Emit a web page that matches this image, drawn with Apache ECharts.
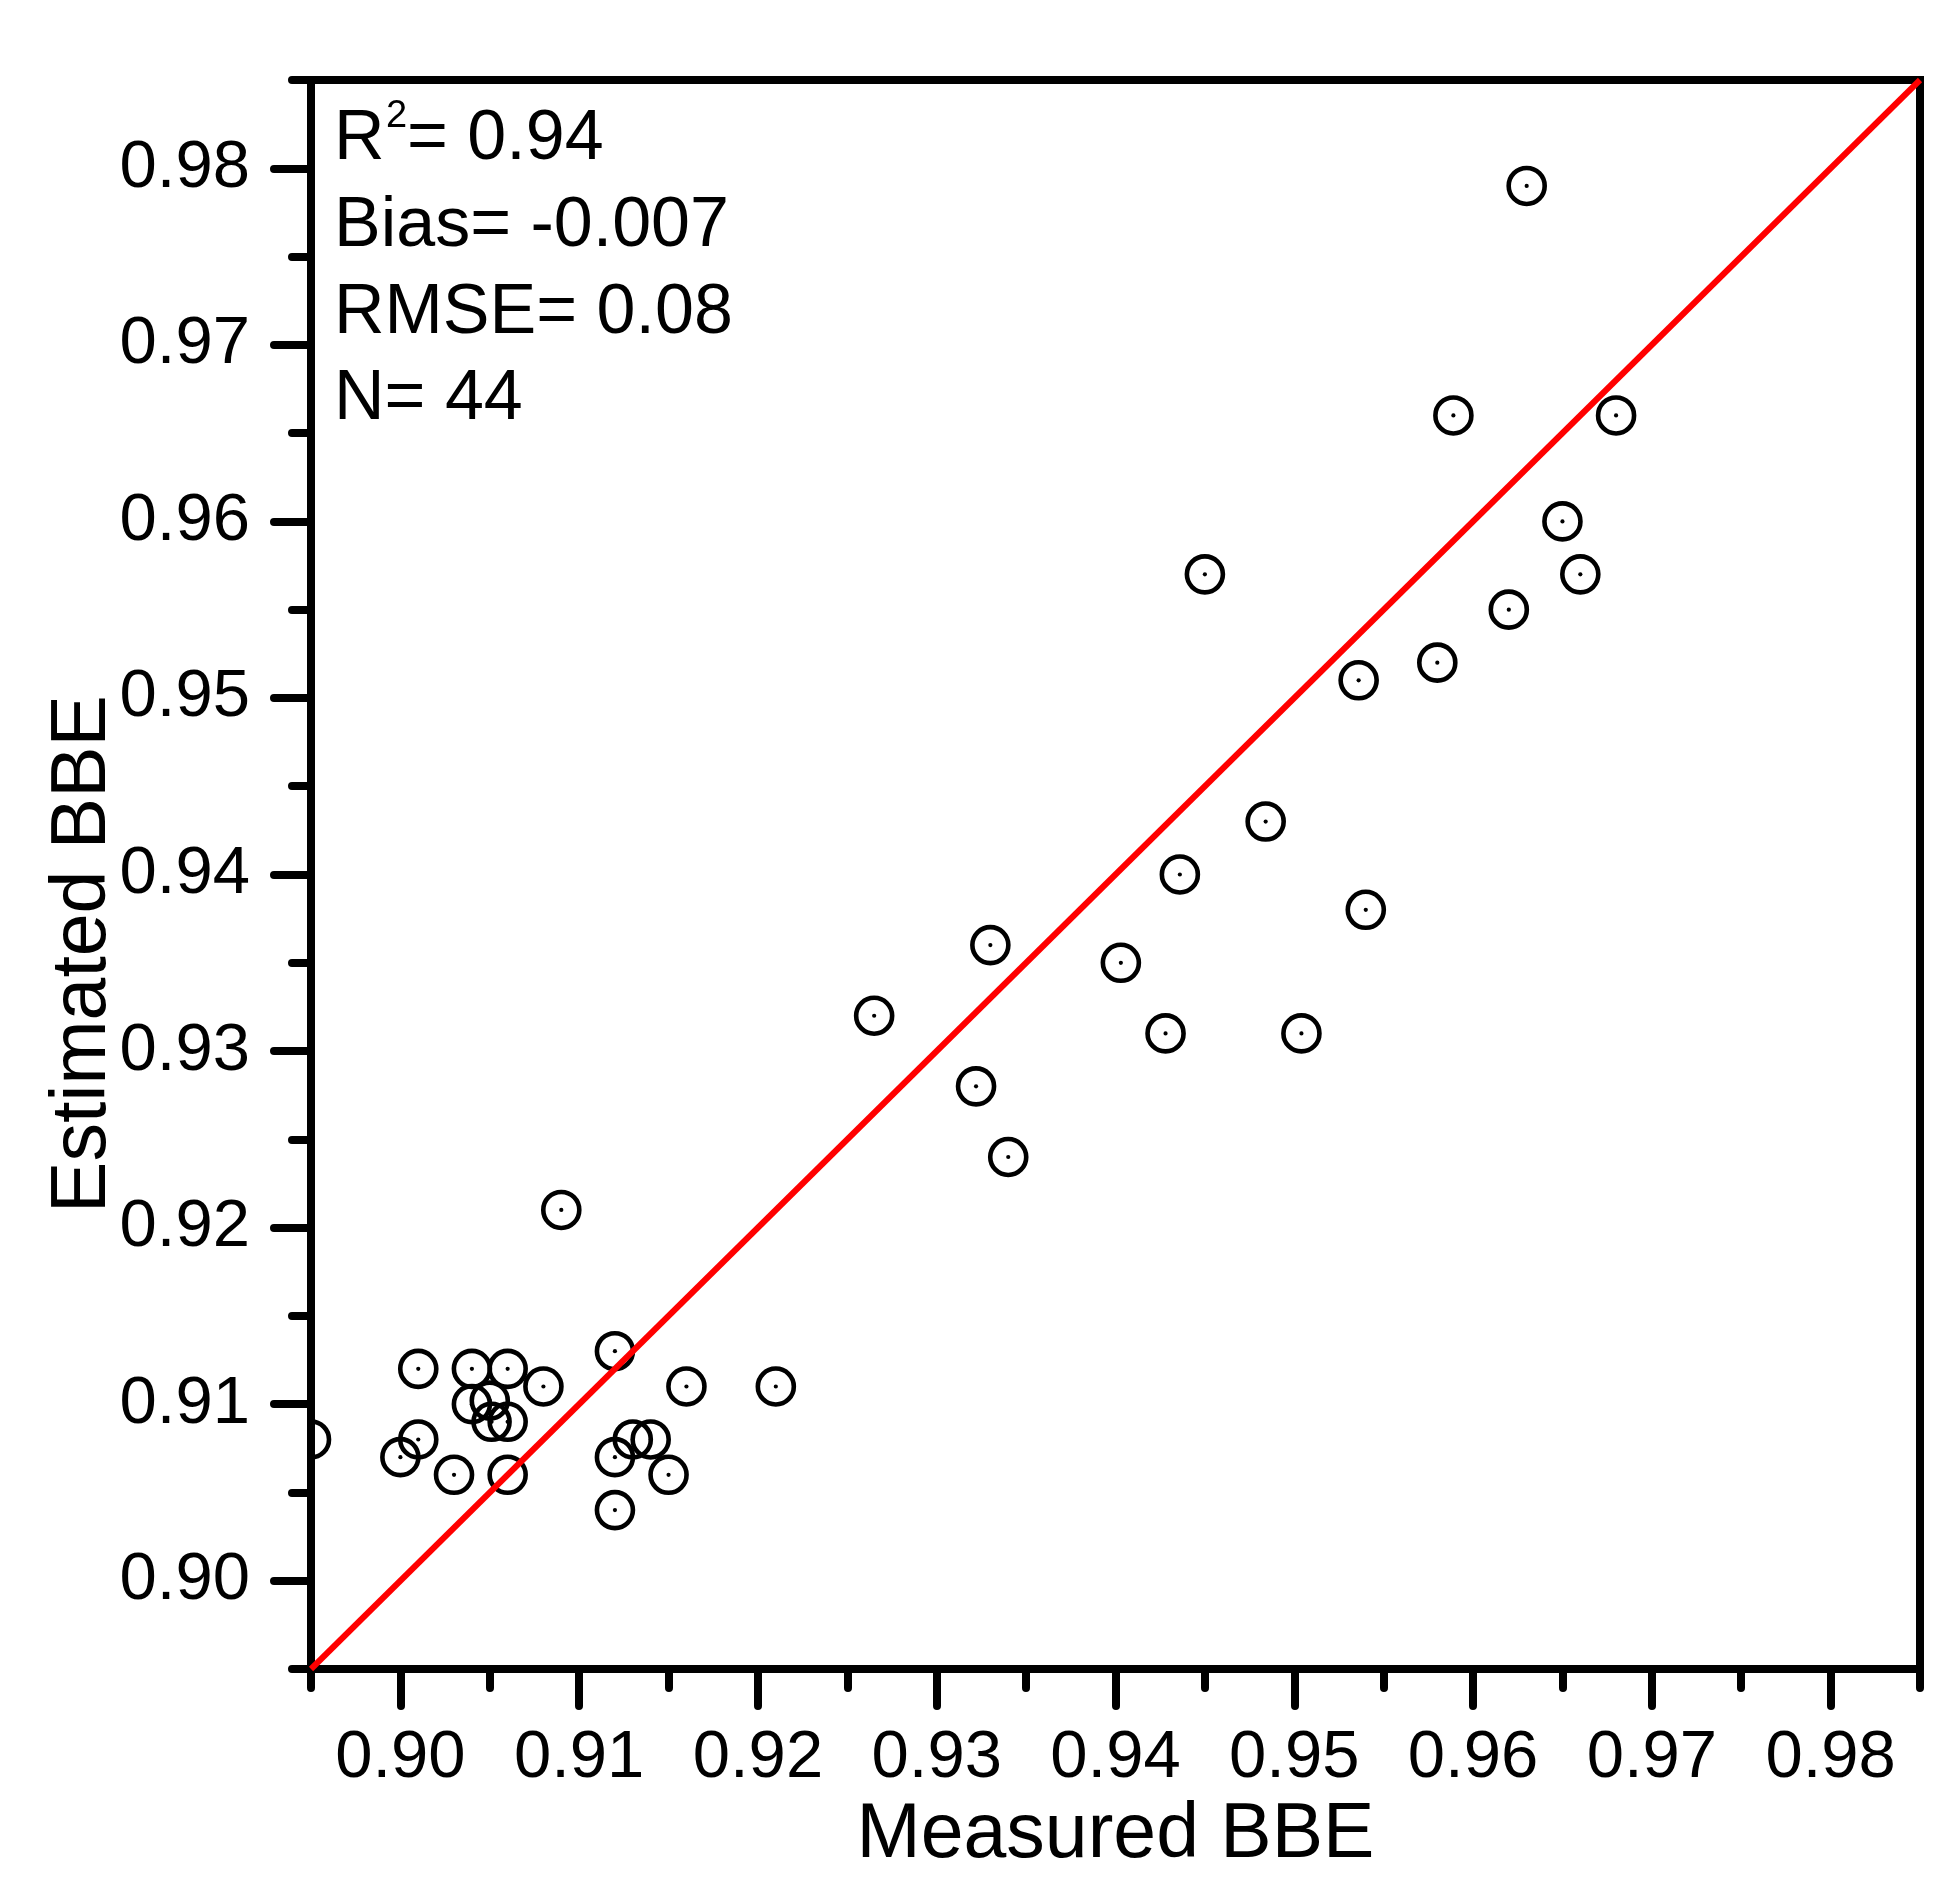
<!DOCTYPE html>
<html>
<head>
<meta charset="utf-8">
<script src="https://cdn.jsdelivr.net/npm/echarts@6/dist/echarts.min.js"></script>
<style>
html,body{margin:0;padding:0;background:#ffffff;}
#chart{width:1955px;height:1888px;}
</style>
</head>
<body>
<div id="chart"></div>
<script>
// ---- data ----
const measuredBBE = [
  0.895, 0.900, 0.901, 0.901, 0.903, 0.904, 0.904, 0.905, 0.9051, 0.906,
  0.906, 0.906, 0.908, 0.909, 0.912, 0.912, 0.912, 0.913, 0.914, 0.915,
  0.916, 0.921, 0.9265, 0.9322, 0.933, 0.934, 0.9403, 0.9428, 0.9436, 0.945,
  0.9484, 0.9504, 0.9536, 0.954, 0.958, 0.9589, 0.962, 0.963, 0.965, 0.966,
  0.968
];
const estimatedBBE = [
  0.908, 0.907, 0.912, 0.908, 0.906, 0.912, 0.910, 0.9102, 0.909, 0.909,
  0.912, 0.906, 0.911, 0.921, 0.913, 0.907, 0.904, 0.908, 0.908, 0.906,
  0.911, 0.911, 0.932, 0.928, 0.936, 0.924, 0.935, 0.931, 0.940, 0.957,
  0.943, 0.931, 0.951, 0.938, 0.952, 0.966, 0.955, 0.979, 0.960, 0.957,
  0.966
];
const axisRange = [0.895, 0.985];
const oneToOneLine = [0.895, 0.985];
const xMajorTicks = [0.90, 0.91, 0.92, 0.93, 0.94, 0.95, 0.96, 0.97, 0.98];
const xMinorTicks = [0.895, 0.905, 0.915, 0.925, 0.935, 0.945, 0.955, 0.965, 0.975, 0.985];
const yMajorTicks = [0.90, 0.91, 0.92, 0.93, 0.94, 0.95, 0.96, 0.97, 0.98];
const yMinorTicks = [0.895, 0.905, 0.915, 0.925, 0.935, 0.945, 0.955, 0.965, 0.975, 0.985];
const statR2 = ['R', '2', '= 0.94'];
const statsLines = ['Bias= -0.007', 'RMSE= 0.08', 'N= 44'];
const xTitle = 'Measured BBE';
const yTitle = 'Estimated BBE';

// ---- chart ----
const FONT = "'Liberation Sans', Arial, sans-serif";
const chart = echarts.init(document.getElementById('chart'), null, {renderer: 'canvas'});

function majorAxis(pos, ticks, margin, extra) {
  return Object.assign({
    type: 'value', position: pos, min: axisRange[0], max: axisRange[1],
    axisLine: {show: true, onZero: false, lineStyle: {color: '#000', width: 8}},
    axisTick: {show: true, inside: false, customValues: ticks, length: 37,
      lineStyle: {color: '#000', width: 8, cap: 'round'}},
    axisLabel: {show: true, customValues: ticks, margin: margin,
      formatter: v => v.toFixed(2), color: '#000', fontSize: 67, fontFamily: FONT},
    splitLine: {show: false}
  }, extra || {});
}
function minorAxis(pos, ticks) {
  return {
    type: 'value', position: pos, min: axisRange[0], max: axisRange[1],
    axisLine: {show: false, onZero: false},
    axisTick: {show: true, inside: false, customValues: ticks, length: 19,
      lineStyle: {color: '#000', width: 8, cap: 'round'}},
    axisLabel: {show: false},
    splitLine: {show: false}
  };
}

const pts = measuredBBE.map((x, i) => [x, estimatedBBE[i]]);
const statY0 = 140, statDY = 86.7, statX = 334;

const graphics = [
  {type: 'text', x: 84, y: 954, rotation: Math.PI / 2,
    style: {text: yTitle, fill: '#000', font: '77px ' + FONT, align: 'center', verticalAlign: 'middle'}},
  {type: 'text', x: statX, y: statY0,
    style: {text: statR2[0], fill: '#000', font: '70px ' + FONT, align: 'left', verticalAlign: 'middle'}},
  {type: 'text', x: statX + 52, y: statY0 - 23,
    style: {text: statR2[1], fill: '#000', font: '38px ' + FONT, align: 'left', verticalAlign: 'middle'}},
  {type: 'text', x: statX + 73, y: statY0,
    style: {text: statR2[2], fill: '#000', font: '70px ' + FONT, align: 'left', verticalAlign: 'middle'}}
].concat(statsLines.map((t, i) => ({
  type: 'text', x: statX, y: statY0 + (i + 1) * statDY,
  style: {text: t, fill: '#000', font: '70px ' + FONT, align: 'left', verticalAlign: 'middle'}
})));

const option = {
  animation: false,
  backgroundColor: '#ffffff',
  grid: {left: 311, right: 35, top: 80, bottom: 219, show: true,
    borderColor: '#000', borderWidth: 8, backgroundColor: 'transparent', containLabel: false},
  xAxis: [
    majorAxis('bottom', xMajorTicks, 56, {
      name: xTitle, nameLocation: 'middle', nameGap: 124,
      nameTextStyle: {color: '#000', fontSize: 77, fontFamily: FONT}
    }),
    minorAxis('bottom', xMinorTicks)
  ],
  yAxis: [
    majorAxis('left', yMajorTicks, 61),
    minorAxis('left', yMinorTicks)
  ],
  graphic: graphics,
  series: [
    {
      type: 'custom', xAxisIndex: 0, yAxisIndex: 0, clip: true,
      data: pts,
      renderItem: function (params, api) {
        const p = api.coord([api.value(0), api.value(1)]);
        return {type: 'group', children: [
          {type: 'circle', shape: {cx: p[0], cy: p[1], r: 18},
            style: {fill: 'none', stroke: '#000', lineWidth: 4.6}},
          {type: 'circle', shape: {cx: p[0], cy: p[1], r: 2.1},
            style: {fill: '#000'}}
        ]};
      }
    },
    {
      type: 'line', xAxisIndex: 0, yAxisIndex: 0, clip: true,
      data: [[oneToOneLine[0], oneToOneLine[0]], [oneToOneLine[1], oneToOneLine[1]]],
      symbol: 'none', lineStyle: {color: '#ff0000', width: 6}
    }
  ]
};
chart.setOption(option);
</script>
</body>
</html>
